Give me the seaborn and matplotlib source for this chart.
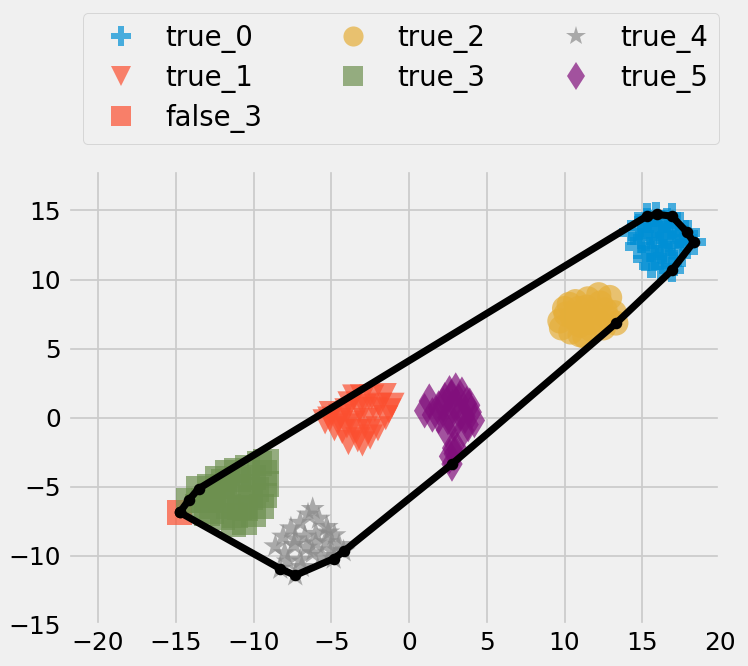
import numpy as np
import pandas as pd
import matplotlib
matplotlib.use('Agg')
import matplotlib.pyplot as plt
import seaborn as sns

# cluster points
true_0_x = [15.3, 15.9, 16.9, 17.9, 18.3, 16.9, 14.3, 14.8, 15.5, 16.2, 16.8, 17.4, 17.6, 15.0, 15.7,
            16.4, 16.9, 17.3, 15.5, 16.1, 15.2, 15.8, 16.5, 16.2, 17.0, 14.7, 15.6, 16.0, 16.6, 17.2,
            15.3, 16.3, 17.7, 14.9, 16.7]
true_0_y = [14.6, 14.7, 14.6, 13.4, 12.7, 10.7, 13.4, 13.8, 13.9, 14.1, 13.8, 13.2, 12.5, 12.8, 13.2,
            13.3, 12.6, 11.8, 12.2, 12.5, 11.5, 11.6, 11.7, 10.9, 11.2, 12.4, 11.0, 13.7, 14.3, 14.0,
            14.3, 12.0, 13.0, 13.1, 12.9]

true_1_x = [-5.4, -5.0, -4.5, -4.0, -3.5, -3.0, -2.4, -1.6, -1.1, -1.5, -2.0, -2.5, -3.3, -3.9, -4.3,
            -3.6, -2.8, -2.2, -3.2, -4.8, -2.6, -3.8, -4.4, -3.4, -1.9, -2.9, -4.0, -1.3, -3.0, -5.1]
true_1_y = [-0.3, 0.3, -0.2, 0.5, 1.5, 1.5, 1.5, 1.6, 0.9, 0.0, -0.8, -1.4, -1.6, -1.8, -1.0,
            -0.4, -0.2, 0.6, 0.6, -0.8, -1.0, 1.0, 0.1, -1.0, 0.9, 0.8, -0.6, 0.5, -1.9, -0.1]

false_3_x = [-14.75]
false_3_y = [-6.85]

true_2_x = [13.3, 12.9, 12.2, 11.5, 10.7, 10.0, 9.7, 9.8, 10.4, 11.0, 11.7, 12.5, 13.2, 12.6, 11.8,
            11.0, 10.5, 11.4, 12.1, 10.3, 11.0, 12.3, 11.6, 10.9, 12.8, 10.1, 11.3]
true_2_y = [6.85, 8.7, 8.9, 8.6, 8.4, 7.9, 7.0, 6.5, 6.2, 6.0, 6.4, 6.5, 7.6, 7.8, 7.6,
            7.2, 7.3, 8.0, 7.1, 8.2, 6.7, 8.3, 6.9, 7.9, 7.2, 7.5, 5.9]

true_3_x = [-14.18, -13.54, -13.2, -12.8, -12.3, -11.7, -11.1, -10.4, -9.6, -9.3, -9.2, -9.3, -9.5, -10.0,
            -10.6, -11.3, -12.0, -12.7, -12.1, -11.4, -10.7, -10.2, -10.9, -11.6, -12.0, -10.0, -11.0,
            -13.6, -12.6, -11.9, -10.5, -9.8, -11.2, -13.0, -9.2]
true_3_y = [-5.98, -5.14, -6.0, -5.0, -4.4, -4.0, -3.8, -3.6, -3.3, -4.0, -4.8, -5.6, -6.4, -7.0,
            -7.6, -7.7, -7.2, -6.8, -6.0, -5.4, -5.0, -5.8, -6.5, -6.4, -5.0, -4.3, -4.5,
            -6.4, -5.6, -4.6, -6.6, -5.2, -7.1, -6.9, -3.2]

true_4_x = [-8.28, -7.32, -4.85, -4.21, -8.6, -8.1, -7.6, -7.0, -6.5, -6.2, -5.8, -5.3, -4.8, -4.5,
            -5.3, -6.0, -6.7, -7.4, -8.0, -7.0, -6.2, -5.6, -6.6, -7.8, -5.2, -7.3, -6.0, -5.0, -6.9]
true_4_y = [-10.93, -11.41, -10.2, -9.67, -9.3, -8.6, -8.0, -7.6, -7.0, -6.6, -7.3, -7.9, -8.5, -9.2,
            -9.0, -8.4, -8.6, -9.2, -9.8, -10.3, -9.8, -10.0, -9.4, -10.4, -8.3, -8.8, -9.1, -9.6, -10.8]

true_5_x = [1.0, 1.3, 1.5, 1.9, 2.3, 2.6, 3.0, 3.4, 3.7, 4.0, 4.2, 3.8, 3.3, 2.8, 2.5, 2.4, 2.9, 3.5,
            1.9, 3.2, 2.76, 2.9, 3.1, 2.6, 2.8, 3.6, 2.2, 3.9, 2.7]
true_5_y = [0.5, 1.2, 0.2, 0.7, 1.3, 1.8, 2.0, 1.7, 1.0, 0.4, -0.2, -0.5, 0.3, 0.8, 0.0, -0.9, -0.5, -0.9,
            0.1, 1.2, -3.35, -2.6, -2.3, -2.8, -2.2, 0.1, 0.9, 0.9, 1.5]

# convex hull outline
hull_x = [-14.75, -8.28, -7.32, -4.85, -4.21, 2.76, 13.33, 16.9, 18.3, 17.87, 16.9, 15.94, 15.3, -13.54, -14.18, -14.75]
hull_y = [-6.85, -10.93, -11.41, -10.2, -9.67, -3.35, 6.85, 10.66, 12.71, 13.43, 14.59, 14.71, 14.59, -5.14, -5.98, -6.85]

order = ['true_0', 'true_1', 'false_3', 'true_2', 'true_3', 'true_4', 'true_5']
colors = {'true_0': '#008fd5', 'true_1': '#fc4f30', 'false_3': '#fc4f30', 'true_2': '#e5ae38',
          'true_3': '#6d904f', 'true_4': '#8b8b8b', 'true_5': '#810f7c'}
markers = {'true_0': 'P', 'true_1': 'v', 'false_3': 's', 'true_2': 'o',
           'true_3': 's', 'true_4': '*', 'true_5': 'd'}

groups = {'true_0': (true_0_x, true_0_y), 'true_1': (true_1_x, true_1_y),
          'false_3': (false_3_x, false_3_y), 'true_2': (true_2_x, true_2_y),
          'true_3': (true_3_x, true_3_y), 'true_4': (true_4_x, true_4_y),
          'true_5': (true_5_x, true_5_y)}

df = pd.concat([pd.DataFrame({'x': gx, 'y': gy, 'label': name}) for name, (gx, gy) in groups.items()],
               ignore_index=True)

plt.style.use('fivethirtyeight')
plt.rcParams['font.family'] = ['DejaVu Sans']

fig = plt.figure(figsize=(748 / 128, 666 / 128), dpi=128)
ax = fig.add_axes([0.0896, 0.0616, 0.873, 0.6847])

sns.scatterplot(data=df, x='x', y='y', hue='label', style='label', hue_order=order, style_order=order,
                palette=colors, markers=markers, s=200, alpha=0.7, linewidth=0, ax=ax)

ax.plot(hull_x, hull_y, color='black', lw=4, marker='o', ms=5.5, zorder=5)

ax.set_xlim(-22, 20)
ax.set_ylim(-15, 18)
ax.set_xticks(np.arange(-20, 21, 5))
ax.set_yticks(np.arange(-15, 16, 5))
ax.set_xlabel('')
ax.set_ylabel('')

sns.move_legend(ax, loc='center', bbox_to_anchor=(0.536, 0.882), bbox_transform=fig.transFigure,
                ncol=3, title=None, frameon=True, fontsize=15.5, columnspacing=2.3,
                labelspacing=0.4, handletextpad=0.6, markerscale=0.8)

fig.savefig('out.png', dpi=128, facecolor='#f0f0f0')
